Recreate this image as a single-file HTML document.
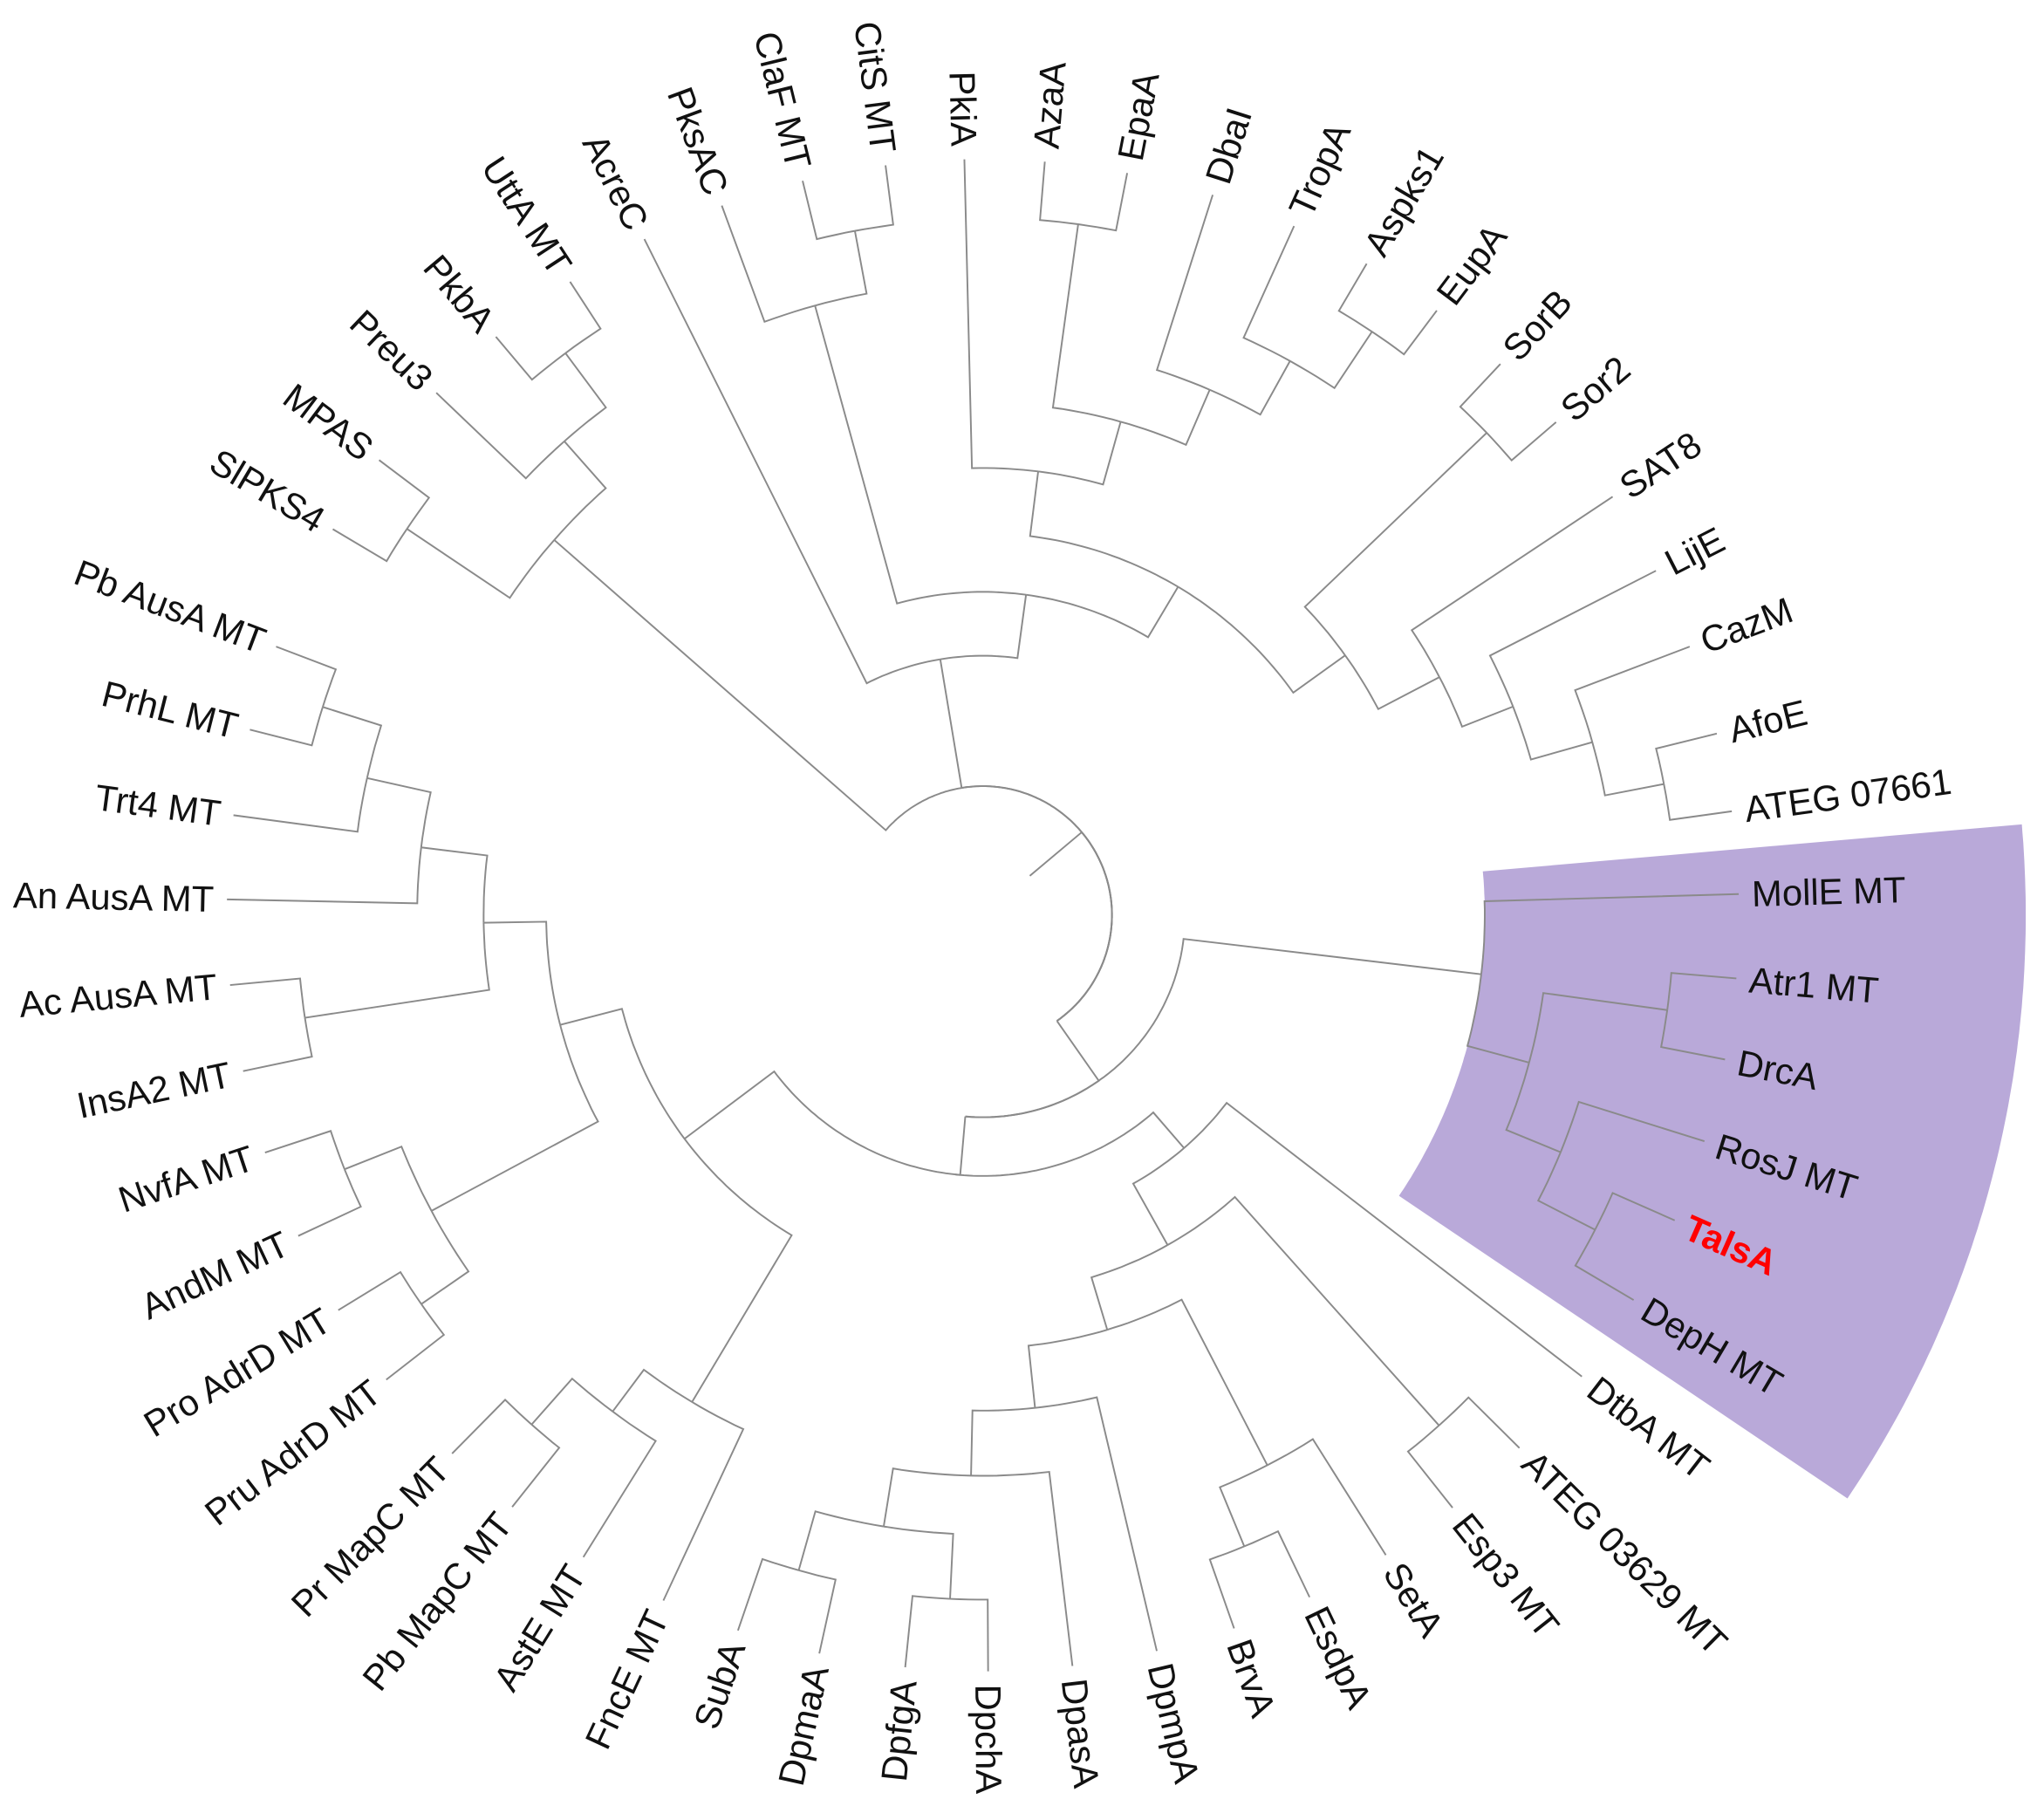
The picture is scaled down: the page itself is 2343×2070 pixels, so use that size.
<!DOCTYPE html>
<html><head><meta charset="utf-8"><title>Phylogenetic tree</title>
<style>
html,body{margin:0;padding:0;background:#fff;}
svg{display:block;}
text{font-family:"Liberation Sans",Arial,sans-serif;}
</style></head>
<body>
<svg id="tree" width="2343" height="2070" viewBox="0 0 1568 1385.3" xmlns="http://www.w3.org/2000/svg">
<g id="wedge"></g>
<g id="branches"></g>
<g id="labels"></g>
</svg>
<script>
// leaf names and their angular positions (degrees, clockwise from +x)
const leafNames = ["MollE MT","Atr1 MT","DrcA","RosJ MT","TalsA","DepH MT","DtbA MT","ATEG 03629 MT","Esp3 MT","SetA","EsdpA","BrvA","DpmpA","DpasA","DpchA","DpfgA","DpmaA","SubA","FncE MT","AstE MT","Pb MapC MT","Pr MapC MT","Pru AdrD MT","Pro AdrD MT","AndM MT","NvfA MT","InsA2 MT","Ac AusA MT","An AusA MT","Trt4 MT","PrhL MT","Pb AusA MT","SlPKS4","MPAS","Preu3","PkbA","UttA MT","AcreC","PksAC","ClaF MT","CitS MT","PkiA","AzaA","EpaA","DbaI","TropA","Aspks1","EupA","SorB","Sor2","SAT8","LijE","CazM","AfoE","ATEG 07661"];
const leafAngles = [-1.6,4.8,11.0,17.4,23.8,30.6,37.6,44.8,51.6,57.8,64.4,70.6,76.7,83.2,89.6,95.9,102.5,108.9,115.0,121.9,128.5,134.6,142.1,148.5,154.9,161.7,168.1,174.7,181.2,187.6,194.2,200.8,-149.3,-143.0,-136.3,-130.1,-123.1,-116.6,-110.2,-103.8,-97.4,-91.4,-85.3,-79.0,-72.3,-65.7,-59.5,-53.1,-46.8,-40.7,-33.6,-27.1,-20.8,-13.9,-7.9];
const highlightLeaf = "TalsA";
// internal nodes: names, radial depth, children
const nodeNames = ["L4","B","A","stub","G1","G1a","G1aa","G1b","T1","T2","PKS","CC","T3","T4","T6","AE","T7","T8","T9","SS","SP","S1","S2","S3","S4","L3","L2","L1","L1a","L1c","L1d","L1b","NA","NA1","NA2","MC","M1","M2","R1","R2","R2a","R3","R3a","BE","R4","R5","R6","SD","DD","P0","P1","AD","P2","P3"];
const nodeRadii = [200,155,99,47,437,485,537,532,199,248,485,534,293,343,393,535,439,486,538,342,535,395,437,486,532,286,335,383,434,484,531,526,480,527,524,435,475,522,236,290,525,332,475,524,380,430,475,522,525,385,434,530,479,528];
const nodeKids = [
 ["B","L3","R1"],["A","P0"],["G1","T1","stub"],[],
 ["G1a","G1b"],["Preu3","G1aa"],["PkbA","UttA MT"],["MPAS","SlPKS4"],
 ["AcreC","T2"],["PKS","T3"],["PksAC","CC"],["ClaF MT","CitS MT"],
 ["T4","SS"],["PkiA","T6"],["AE","T7"],["AzaA","EpaA"],["DbaI","T8"],["TropA","T9"],["Aspks1","EupA"],
 ["SP","S1"],["SorB","Sor2"],["SAT8","S2"],["LijE","S3"],["CazM","S4"],["AfoE","ATEG 07661"],
 ["L2","MC"],["L1","NA"],["L1a","L1b"],["L1c","An AusA MT"],["L1d","Trt4 MT"],["Pb AusA MT","PrhL MT"],["Ac AusA MT","InsA2 MT"],
 ["NA1","NA2"],["NvfA MT","AndM MT"],["Pro AdrD MT","Pru AdrD MT"],
 ["M1","FncE MT"],["M2","AstE MT"],["Pr MapC MT","Pb MapC MT"],
 ["DtbA MT","R2"],["R2a","R3"],["ATEG 03629 MT","Esp3 MT"],["R3a","R4"],["SetA","BE"],["BrvA","EsdpA"],
 ["DpmpA","R5"],["DpasA","R6"],["SD","DD"],["SubA","DpmaA"],["DpfgA","DpchA"],
 ["MollE MT","P1"],["AD","P2"],["Atr1 MT","DrcA"],["RosJ MT","P3"],["TalsA","DepH MT"]
];
const fixedNames = ["A","B","stub"];
const fixedAngles = [55,95,-40];
const wedgeAngles = [-5,34];
const wedgeRadii = [385,800];

const CX=754, CY=702, LEAF_R=580, LABEL_R=590;
const NS="http://www.w3.org/2000/svg";
function pt(a,r){const t=a*Math.PI/180;return [CX+r*Math.cos(t),CY+r*Math.sin(t)];}
const R={}, K={}, ANG={};
nodeNames.forEach((n,i)=>{R[n]=nodeRadii[i];K[n]=nodeKids[i];});
leafNames.forEach((n,i)=>{R[n]=LEAF_R;K[n]=null;ANG[n]=leafAngles[i];});
fixedNames.forEach((n,i)=>{ANG[n]=fixedAngles[i];});
function ang(n){
  if(ANG[n]!==undefined && (K[n]===null || fixedNames.indexOf(n)>=0)) return ANG[n];
  const as=K[n].map(ang);
  ANG[n]=(Math.min(...as)+Math.max(...as))/2;
  return ANG[n];
}
nodeNames.forEach(ang);

// wedge
(function(){
  const g=document.getElementById('wedge');
  let d=[];
  const a0=wedgeAngles[0],a1=wedgeAngles[1],r0=wedgeRadii[0],r1=wedgeRadii[1];
  for(let a=a0;a<=a1+0.001;a+=0.5){const p=pt(a,r1);d.push(p);}
  for(let a=a1;a>=a0-0.001;a-=0.5){const p=pt(a,r0);d.push(p);}
  const poly=document.createElementNS(NS,'polygon');
  poly.setAttribute('points',d.map(p=>p[0].toFixed(1)+','+p[1].toFixed(1)).join(' '));
  poly.setAttribute('fill','#b9a9d9');
  
  
  g.appendChild(poly);
})();

// branches
const bg=document.getElementById('branches');
function edge(p,c){
  const rp=R[p], ap=ANG[p], ac=ANG[c], rc=R[c];
  const pts=[];
  const n=Math.max(2,Math.ceil(Math.abs(ac-ap)/1)+1);
  for(let i=0;i<n;i++){const a=ap+(ac-ap)*i/(n-1);pts.push(pt(a,rp));}
  pts.push(pt(ac,rc));
  const pl=document.createElementNS(NS,'polyline');
  pl.setAttribute('points',pts.map(q=>q[0].toFixed(1)+','+q[1].toFixed(1)).join(' '));
  pl.setAttribute('fill','none');
  pl.setAttribute('stroke','#8a8a8a');
  pl.setAttribute('stroke-width','1.3');
  
  
  bg.appendChild(pl);
}
nodeNames.forEach(n=>{ (K[n]||[]).forEach(c=>edge(n,c)); });

// labels
const lg=document.getElementById('labels');
leafNames.forEach((n,i)=>{
  const a=leafAngles[i];
  const p=pt(a,LABEL_R);
  const t=document.createElementNS(NS,'text');
  const right=Math.cos(a*Math.PI/180)>=0;
  const rot=right?a:a+180;
  t.setAttribute('x',p[0].toFixed(1));
  t.setAttribute('y',p[1].toFixed(1));
  t.setAttribute('dy','0.35em');
  t.setAttribute('text-anchor',right?'start':'end');
  t.setAttribute('transform','rotate('+rot.toFixed(2)+' '+p[0].toFixed(1)+' '+p[1].toFixed(1)+')');
  t.setAttribute('font-size','28');
  if(n===highlightLeaf){t.setAttribute('fill','#ff0000');t.setAttribute('font-weight','bold');}
  else t.setAttribute('fill','#111');
  t.textContent=n;
  
  
  lg.appendChild(t);
});
</script>
</body></html>
